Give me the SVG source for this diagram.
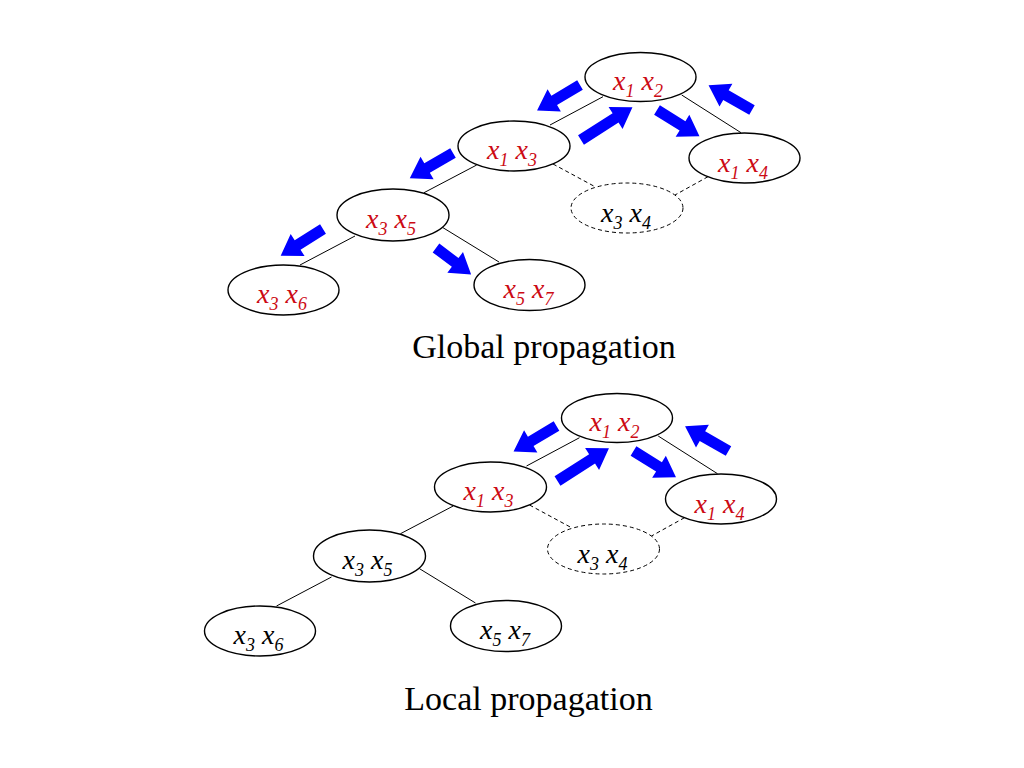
<svg xmlns="http://www.w3.org/2000/svg" xmlns:xlink="http://www.w3.org/1999/xlink" width="1024" height="768" viewBox="0 0 1024 768">
<style>
.node{fill:#fff;stroke:#000;stroke-width:1.4}
.dnode{fill:#fff;stroke:#000;stroke-width:1;stroke-dasharray:4 3}
.edge{stroke:#000;stroke-width:1;fill:none}
.dedge{stroke:#000;stroke-width:1;fill:none;stroke-dasharray:4 3}
text{font-family:'Liberation Serif','Times New Roman',Times,'DejaVu Serif',serif}
.lbl{font-style:italic;font-size:28px;text-anchor:middle}
.red{fill:#cc0a14}
.blk{fill:#000}
.sub{font-size:18px}
.title{font-size:34px;text-anchor:middle;fill:#000}
.arrow{fill:#0000ff}
</style>
<defs>
<path id="arr49" d="M0,-5.5 H30 V-13 L50,0 L30,13 V5.5 H0 Z"/>
<path id="arr60" d="M0,-5.5 H41 V-13 L61,0 L41,13 V5.5 H0 Z"/>
<path id="arr42" d="M0,-5.5 H24 V-13 L44,0 L24,13 V5.5 H0 Z"/>
</defs>
<rect width="1024" height="768" fill="#fff"/>

<g id="connectors">
<line class="edge" x1="603" y1="96.7" x2="550" y2="125"/>
<line class="edge" x1="681.7" y1="95" x2="741" y2="132.7"/>
<line class="dedge" x1="553" y1="164" x2="595" y2="186.7"/>
<line class="dedge" x1="708" y1="176.7" x2="675" y2="195"/>
<line class="edge" x1="476.7" y1="165" x2="424" y2="192.7"/>
<line class="edge" x1="355" y1="236" x2="300" y2="265"/>
<line class="edge" x1="443" y1="227.7" x2="499" y2="262"/>
<line class="edge" x1="579.5" y1="437.7" x2="526.5" y2="466"/>
<line class="edge" x1="658.2" y1="436" x2="717.5" y2="473.7"/>
<line class="dedge" x1="529.5" y1="505" x2="571.5" y2="527.7"/>
<line class="dedge" x1="684.5" y1="517.7" x2="651.5" y2="536"/>
<line class="edge" x1="453.2" y1="506" x2="400.5" y2="533.7"/>
<line class="edge" x1="331.5" y1="577" x2="276.5" y2="606"/>
<line class="edge" x1="419.5" y1="568.7" x2="475.5" y2="603"/>
</g>

<g id="g-x1x2">
<ellipse class="node" cx="640.5" cy="77" rx="55.5" ry="24.5"/>
<text class="lbl red" x="638" y="89.5">x<tspan class="sub" dy="7">1</tspan><tspan dy="-7"> x</tspan><tspan class="sub" dy="7">2</tspan></text>
</g>
<g id="g-x1x3">
<ellipse class="node" cx="514" cy="146" rx="56" ry="25"/>
<text class="lbl red" x="512" y="158.5">x<tspan class="sub" dy="7">1</tspan><tspan dy="-7"> x</tspan><tspan class="sub" dy="7">3</tspan></text>
</g>
<g id="g-x1x4">
<ellipse class="node" cx="744.5" cy="158" rx="55.5" ry="25"/>
<text class="lbl red" x="743" y="171.5">x<tspan class="sub" dy="7">1</tspan><tspan dy="-7"> x</tspan><tspan class="sub" dy="7">4</tspan></text>
</g>
<g id="g-x3x4">
<ellipse class="dnode" cx="627" cy="208" rx="56" ry="25"/>
<text class="lbl blk" x="626" y="221.5">x<tspan class="sub" dy="7">3</tspan><tspan dy="-7"> x</tspan><tspan class="sub" dy="7">4</tspan></text>
</g>
<g id="g-x3x5">
<ellipse class="node" cx="393" cy="215" rx="56" ry="26"/>
<text class="lbl red" x="391" y="228">x<tspan class="sub" dy="7">3</tspan><tspan dy="-7"> x</tspan><tspan class="sub" dy="7">5</tspan></text>
</g>
<g id="g-x3x6">
<ellipse class="node" cx="283.5" cy="290" rx="55.5" ry="25"/>
<text class="lbl red" x="282" y="303">x<tspan class="sub" dy="7">3</tspan><tspan dy="-7"> x</tspan><tspan class="sub" dy="7">6</tspan></text>
</g>
<g id="g-x5x7">
<ellipse class="node" cx="529.5" cy="285" rx="55.5" ry="25.5"/>
<text class="lbl red" x="528.5" y="298">x<tspan class="sub" dy="7">5</tspan><tspan dy="-7"> x</tspan><tspan class="sub" dy="7">7</tspan></text>
</g>

<g id="arrows-global">
<use href="#arr49" xlink:href="#arr49" class="arrow" transform="translate(580,85) rotate(149.2)"/>
<use href="#arr60" xlink:href="#arr60" class="arrow" transform="translate(581,140) rotate(-32.5)"/>
<use href="#arr49" xlink:href="#arr49" class="arrow" transform="translate(657,110) rotate(31.8)"/>
<use href="#arr49" xlink:href="#arr49" class="arrow" transform="translate(752,110) rotate(-150.3)"/>
<use href="#arr49" xlink:href="#arr49" class="arrow" transform="translate(453,153) rotate(149.8)"/>
<use href="#arr49" xlink:href="#arr49" class="arrow" transform="translate(323,229) rotate(147.8)"/>
<use href="#arr42" xlink:href="#arr42" class="arrow" transform="translate(436,248) rotate(37)"/>
</g>

<text id="title-global" class="title" x="544" y="358">Global propagation</text>

<g id="l-x1x2">
<ellipse class="node" cx="617" cy="418" rx="55.5" ry="24.5"/>
<text class="lbl red" x="614.5" y="430.5">x<tspan class="sub" dy="7">1</tspan><tspan dy="-7"> x</tspan><tspan class="sub" dy="7">2</tspan></text>
</g>
<g id="l-x1x3">
<ellipse class="node" cx="490.5" cy="487" rx="56" ry="25"/>
<text class="lbl red" x="488.5" y="499.5">x<tspan class="sub" dy="7">1</tspan><tspan dy="-7"> x</tspan><tspan class="sub" dy="7">3</tspan></text>
</g>
<g id="l-x1x4">
<ellipse class="node" cx="721" cy="499" rx="55.5" ry="25"/>
<text class="lbl red" x="719.5" y="512.5">x<tspan class="sub" dy="7">1</tspan><tspan dy="-7"> x</tspan><tspan class="sub" dy="7">4</tspan></text>
</g>
<g id="l-x3x4">
<ellipse class="dnode" cx="603.5" cy="549" rx="56" ry="25"/>
<text class="lbl blk" x="602.5" y="562.5">x<tspan class="sub" dy="7">3</tspan><tspan dy="-7"> x</tspan><tspan class="sub" dy="7">4</tspan></text>
</g>
<g id="l-x3x5">
<ellipse class="node" cx="369.5" cy="556" rx="56" ry="26"/>
<text class="lbl blk" x="367.5" y="569">x<tspan class="sub" dy="7">3</tspan><tspan dy="-7"> x</tspan><tspan class="sub" dy="7">5</tspan></text>
</g>
<g id="l-x3x6">
<ellipse class="node" cx="260" cy="631" rx="55.5" ry="25"/>
<text class="lbl blk" x="258.5" y="644">x<tspan class="sub" dy="7">3</tspan><tspan dy="-7"> x</tspan><tspan class="sub" dy="7">6</tspan></text>
</g>
<g id="l-x5x7">
<ellipse class="node" cx="506" cy="626" rx="55.5" ry="25.5"/>
<text class="lbl blk" x="505" y="639">x<tspan class="sub" dy="7">5</tspan><tspan dy="-7"> x</tspan><tspan class="sub" dy="7">7</tspan></text>
</g>

<g id="arrows-local">
<use href="#arr49" xlink:href="#arr49" class="arrow" transform="translate(556.5,426) rotate(149.2)"/>
<use href="#arr60" xlink:href="#arr60" class="arrow" transform="translate(557.5,481) rotate(-32.5)"/>
<use href="#arr49" xlink:href="#arr49" class="arrow" transform="translate(633.5,451) rotate(31.8)"/>
<use href="#arr49" xlink:href="#arr49" class="arrow" transform="translate(728.5,451) rotate(-150.3)"/>
</g>

<text id="title-local" class="title" x="528.5" y="710">Local propagation</text>
</svg>
